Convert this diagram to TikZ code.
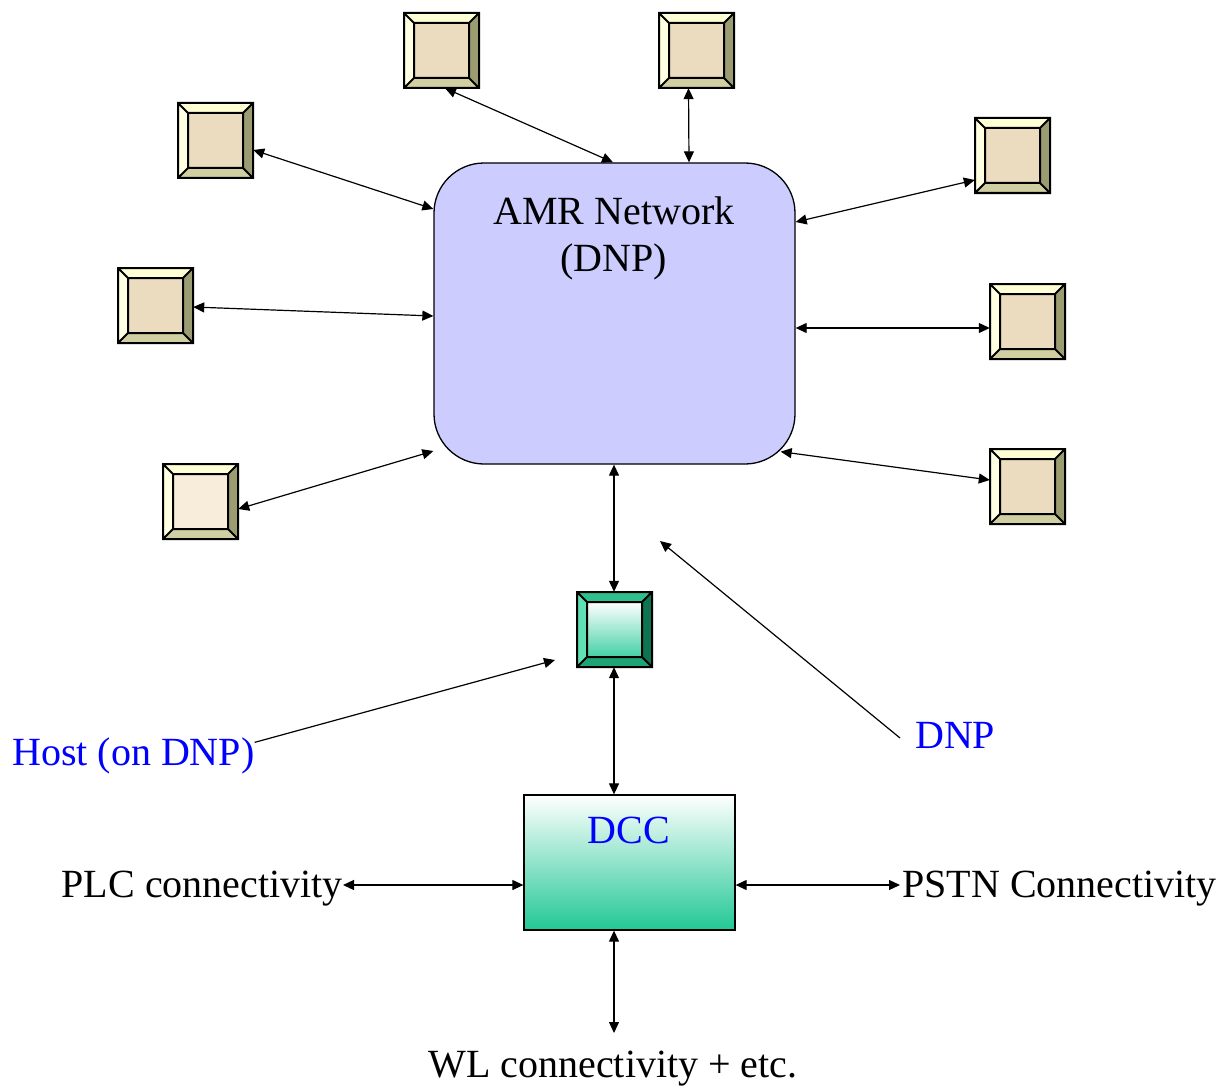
\documentclass[tikz,border=0pt]{standalone}
\usepackage{fontspec}
\setmainfont{Liberation Serif}
\usetikzlibrary{arrows.meta,calc}
\definecolor{bvtop}{HTML}{FFFFD6}
\definecolor{bvleft}{HTML}{FFFFE2}
\definecolor{bvright}{HTML}{9C9C72}
\definecolor{bvbot}{HTML}{CFCFA2}
\definecolor{bvin}{HTML}{EBDCC0}
\definecolor{bvinlight}{HTML}{F8ECDA}
\definecolor{grtop}{HTML}{2FBF8F}
\definecolor{grleft}{HTML}{5FE0B5}
\definecolor{grright}{HTML}{0E7452}
\definecolor{grbot}{HTML}{1FA476}
\definecolor{grin}{HTML}{22C894}
\definecolor{amrfill}{HTML}{CCCCFF}
\definecolor{txtblue}{HTML}{0000FF}
\newcommand{\bevbox}[8]{%
  % #1 name, #2 x, #3 y (top-left), #4 top, #5 left, #6 right, #7 bottom, #8 inner fill spec
  \begin{scope}[shift={(#2,#3)}]
    \fill[#4] (0,0) -- (75,0) -- (65,10) -- (10,10) -- cycle;
    \fill[#5] (0,0) -- (10,10) -- (10,65) -- (0,75) -- cycle;
    \fill[#6] (75,0) -- (75,75) -- (65,65) -- (65,10) -- cycle;
    \fill[#7] (0,75) -- (75,75) -- (65,65) -- (10,65) -- cycle;
    \fill[#8] (10,10) rectangle (65,65);
    \draw[line width=2pt] (0,0) rectangle (75,75) (10,10) rectangle (65,65)
      (0,0) -- (10,10) (75,0) -- (65,10) (75,75) -- (65,65) (0,75) -- (10,65);
    \node[minimum size=75pt, inner sep=0pt] (#1) at (37.5,37.5) {};
  \end{scope}}
\tikzset{
  arr/.style={line width=1.2pt, {Triangle[length=11pt,width=10pt]}-{Triangle[length=11pt,width=10pt]}},
  oarr/.style={line width=1.2pt, -{Triangle[length=11pt,width=10pt]}},
  big/.style={font=\fontsize{40}{47}\selectfont, inner sep=0pt},
  blue/.style={text=txtblue},
}
\begin{document}
\begin{tikzpicture}[x=1pt,y=-1pt]
\useasboundingbox (0,0) rectangle (1225,1086);
\fill[white] (0,0) rectangle (1225,1086);
% AMR network
\node[draw, line width=1.3pt, fill=amrfill, rounded corners=50pt, minimum width=361pt, minimum height=301pt, inner sep=0pt] (amr) at (614.5,313.5) {};
\node[big, anchor=base, align=center] (amrtxt) at (614,224) {AMR Network};
\node[big, anchor=base] (amrtxt2) at (614,271) {(DNP)};
% peripheral boxes
\bevbox{A}{404}{13}{bvtop}{bvleft}{bvright}{bvbot}{bvin}
\bevbox{B}{659}{13}{bvtop}{bvleft}{bvright}{bvbot}{bvin}
\bevbox{C}{178}{103}{bvtop}{bvleft}{bvright}{bvbot}{bvin}
\bevbox{D}{975}{118}{bvtop}{bvleft}{bvright}{bvbot}{bvin}
\bevbox{E}{118}{268}{bvtop}{bvleft}{bvright}{bvbot}{bvin}
\bevbox{F}{990}{284}{bvtop}{bvleft}{bvright}{bvbot}{bvin}
\bevbox{G}{163}{464}{bvtop}{bvleft}{bvright}{bvbot}{bvinlight}
\bevbox{H}{990}{449}{bvtop}{bvleft}{bvright}{bvbot}{bvin}
\bevbox{host}{577}{592}{grtop}{grleft}{grright}{grbot}{top color=white, bottom color=grin!85}
% DCC
\node[draw, line width=1.3pt, top color=white, bottom color=grin, minimum width=211pt, minimum height=135pt, inner sep=0pt] (dcc) at (629.5,862.5) {};
\node[big, blue, anchor=base] (dcctxt) at (629,843) {DCC};
% labels
\node[big, blue, anchor=base west] (hosttxt) at (12,765) {Host (on DNP)};
\node[big, blue, anchor=base west] (dnptxt) at (915,748) {DNP};
\node[big, anchor=base east] (plc) at (343,897) {PLC connectivity};
\node[big, anchor=base west] (pstn) at (902,897) {PSTN Connectivity};
\node[big, anchor=base] (wl) at (613,1077) {WL connectivity + etc.};
% connectors
\draw[arr] ([xshift=3.5pt]A.south) -- ([xshift=-1.5pt]amr.north);
\draw[arr] ([xshift=-8pt]B.south) -- ([xshift=74.5pt]amr.north);
\draw[arr] ([yshift=-9.5pt]C.east) -- ([yshift=104.5pt]amr.west);
\draw[arr] ([yshift=-24.5pt]D.west) -- ([yshift=91.5pt]amr.east);
\draw[arr] ([yshift=-1.5pt]E.east) -- ([yshift=-2.5pt]amr.west);
\draw[arr] ([yshift=-6.5pt]F.west) -- ([yshift=-14.5pt]amr.east);
\draw[arr] ([yshift=-7.5pt]G.east) -- ([yshift=-137.5pt]amr.west);
\draw[arr] ([yshift=6.5pt]H.west) -- ([shift={(-15pt,13pt)}]amr.south east);
\draw[arr] ([xshift=-0.5pt]amr.south) -- ([xshift=-0.5pt]host.north);
\draw[arr] ([xshift=-0.5pt]host.south) -- ([xshift=-15.5pt]dcc.north);
\coordinate (dl) at ([yshift=-22.5pt]dcc.west);
\coordinate (dr) at ([yshift=-22.5pt]dcc.east);
\coordinate (wlend) at (614,1033);
\draw[arr] (dl) -- (plc.east |- dl);
\draw[arr] (dr) -- ([xshift=-2pt]pstn.west |- dr);
\draw[arr] ([xshift=-15.5pt]dcc.south) -- (wlend);
\coordinate (hostarrow) at (555,660);
\coordinate (dnparrow) at (660,541);
\draw[oarr] ([yshift=13pt]hosttxt.east) -- (hostarrow);
\draw[oarr] (900,738) -- (dnparrow);
\end{tikzpicture}
\end{document}
